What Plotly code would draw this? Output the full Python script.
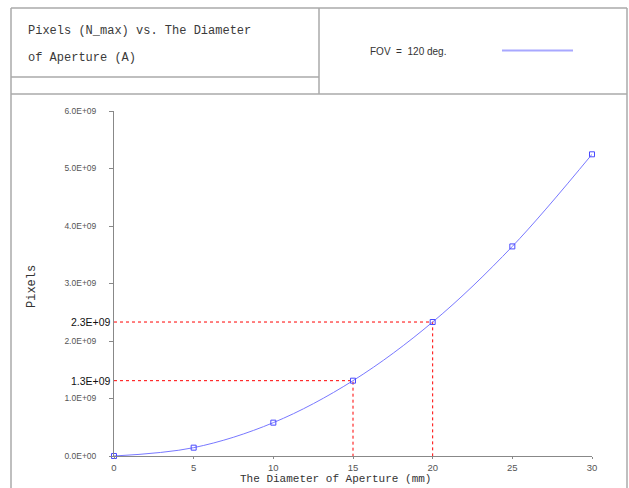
import plotly.graph_objects as go

# ---- data ----
diameter_mm = [0, 5, 10, 15, 20, 25, 30]
pixels = [0.0, 0.145e9, 0.58e9, 1.31e9, 2.33e9, 3.645e9, 5.247e9]
series_name = "FOV = 120 deg."
y_tick_vals = [0, 1e9, 2e9, 3e9, 4e9, 5e9, 6e9]
y_tick_text = ["0.0E+00", "1.0E+09", "2.0E+09", "3.0E+09", "4.0E+09", "5.0E+09", "6.0E+09"]
x_tick_vals = [0, 5, 10, 15, 20, 25, 30]
highlight_x = [15, 20]
highlight_labels = ["1.3E+09", "2.3E+09"]
title_lines = ["Pixels (N_max) vs. The Diameter", "of Aperture (A)"]
x_title = "The Diameter of Aperture (mm)"
y_title = "Pixels"

W, H = 629, 488
L, R, T, B = 114, 37, 111, 32
pw, ph = W - L - R, H - T - B


def px(xp):
    return (xp - L) / pw


def py(yp):
    return (H - B - yp) / ph


fig = go.Figure()

# red guide lines through highlighted points
for hx in highlight_x:
    hy = pixels[diameter_mm.index(hx)]
    fig.add_trace(go.Scatter(x=[0, hx, hx], y=[hy, hy, 0], mode="lines",
                             line=dict(color="red", width=1, dash="dot"),
                             hoverinfo="skip", showlegend=False))

fig.add_trace(go.Scatter(
    x=diameter_mm, y=pixels, mode="lines+markers", name=series_name,
    line=dict(color="#7878ff", width=1, shape="spline"),
    marker=dict(symbol="square-open", size=5, color="#4a4aff", line=dict(width=1)),
    cliponaxis=False,
    showlegend=False))

grey = "#aaaaaa"
shapes = [
    # outer frame
    dict(type="line", x0=px(11), x1=px(11), y0=py(8), y1=-0.2),
    dict(type="line", x0=px(627), x1=px(627), y0=py(8), y1=-0.2),
    dict(type="line", x0=px(11), x1=px(627), y0=py(8), y1=py(8)),
    dict(type="line", x0=px(11), x1=px(627), y0=py(94), y1=py(94)),
    dict(type="line", x0=px(11), x1=px(319), y0=py(77), y1=py(77)),
    dict(type="line", x0=px(319), x1=px(319), y0=py(8), y1=py(94)),
]
for s in shapes:
    s.update(xref="paper", yref="paper", line=dict(color=grey, width=1.5))
# legend sample line
shapes.append(dict(type="line", xref="paper", yref="paper", x0=px(502), x1=px(573),
                   y0=py(50.5), y1=py(50.5), line=dict(color="#a8a8ff", width=2)))

mono = "Liberation Mono, DejaVu Sans Mono, monospace"
sans = "Liberation Sans, Arial, sans-serif"
annotations = [
    dict(text=title_lines[0], x=px(26), y=py(31), xanchor="left", yanchor="middle",
         font=dict(family=mono, size=12, color="#3a3a3a")),
    dict(text=title_lines[1], x=px(26), y=py(58), xanchor="left", yanchor="middle",
         font=dict(family=mono, size=12, color="#3a3a3a")),
    dict(text=series_name.replace(" ", "&nbsp; ").replace("&nbsp; deg", " deg"),
         x=px(368), y=py(51.5), xanchor="left", yanchor="middle",
         font=dict(family=sans, size=10, color="#333333")),
    dict(text=x_title, x=px(335), y=py(479), xanchor="center", yanchor="middle",
         font=dict(family=mono, size=11, color="#333333")),
    dict(text=y_title, x=px(32), y=py(287), xanchor="center", yanchor="middle",
         textangle=-90, font=dict(family=mono, size=12, color="#333333")),
]
for a in annotations:
    a.update(xref="paper", yref="paper", showarrow=False)
for hx, lab in zip(highlight_x, highlight_labels):
    hy = pixels[diameter_mm.index(hx)]
    annotations.append(dict(text=lab, xref="paper", yref="y", x=0, y=hy,
                            xanchor="right", yanchor="middle", xshift=-1,
                            showarrow=False,
                            font=dict(family=sans, size=10.5, color="#111111")))

fig.update_layout(
    width=W, height=H,
    margin=dict(l=L, r=R, t=T, b=B, pad=0),
    paper_bgcolor="white", plot_bgcolor="white",
    shapes=shapes, annotations=annotations,
    showlegend=False,
    xaxis=dict(range=[0, 30], tickvals=x_tick_vals, showgrid=False, zeroline=False,
               showline=True, linecolor="#888888", linewidth=1,
               ticks="outside", ticklen=2, tickcolor="#888888",
               ticklabelstandoff=1,
               tickfont=dict(family=sans, size=9.5, color="#555555")),
    yaxis=dict(range=[0, 6e9], tickvals=y_tick_vals, ticktext=y_tick_text,
               showgrid=False, zeroline=False,
               showline=True, linecolor="#888888", linewidth=1,
               ticks="outside", ticklen=4, tickcolor="#888888",
               ticklabelstandoff=11,
               tickfont=dict(family=sans, size=8.5, color="#555555")),
)

fig.write_html("out.html")
